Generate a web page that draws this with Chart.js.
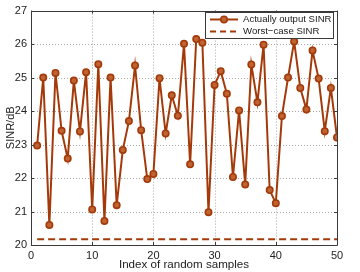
<!DOCTYPE html>
<html>
<head>
<meta charset="utf-8">
<script src="https://cdn.jsdelivr.net/npm/chart.js@4/dist/chart.umd.min.js"></script>
<style>
html,body{margin:0;padding:0;background:#fff;}
#wrap{width:360px;height:272px;position:relative;}
</style>
</head>
<body>
<div id="wrap"><canvas id="c" width="360" height="272"></canvas></div>
<script>
const sampleIndex = [1,2,3,4,5,6,7,8,9,10,11,12,13,14,15,16,17,18,19,20,21,22,23,24,25,26,27,28,29,30,31,32,33,34,35,36,37,38,39,40,41,42,43,44,45,46,47,48,49,50];
const actualSINR = [22.97,25.0,20.6,25.14,23.41,22.58,24.91,23.39,25.16,21.06,25.4,20.72,25.0,21.19,22.84,23.7,25.36,23.43,21.97,22.12,24.98,23.33,24.47,23.86,26.01,22.41,26.15,26.04,20.98,24.78,25.19,24.52,22.03,24.02,21.81,25.39,24.26,25.98,21.64,21.25,23.85,25.0,26.08,24.69,24.05,25.81,24.97,23.4,24.69,23.21];
const worstSINR = 20.17;
const xTicks = [0,10,20,30,40,50];
const yTicks = [20,21,22,23,24,25,26,27];
const seriesNames = ["Actually output SINR","Worst\u2212case SINR"];

const col = 'rgb(164,58,10)';
const font = "'Liberation Sans', Arial, sans-serif";

const gridPlugin = {
  id:'gridPlugin',
  beforeDatasetsDraw(chart){
    const {ctx, chartArea:a, scales:{x,y}} = chart;
    ctx.save();
    ctx.strokeStyle='#a8a8a8'; ctx.lineWidth=1; ctx.setLineDash([1,2]);
    ctx.beginPath();
    xTicks.slice(1,-1).forEach(v=>{
      const px=Math.round(x.getPixelForValue(v))+0.5;
      ctx.moveTo(px,a.top); ctx.lineTo(px,a.bottom);
    });
    yTicks.slice(1,-1).forEach(v=>{
      const py=Math.round(y.getPixelForValue(v))+0.5;
      ctx.moveTo(a.left,py); ctx.lineTo(a.right,py);
    });
    ctx.stroke();
    ctx.restore();
  }
};

const boxPlugin = {
  id:'boxPlugin',
  afterDraw(chart){
    const {ctx, chartArea:a, scales:{x,y}} = chart;
    ctx.save();
    ctx.strokeStyle = '#3a3a3a';
    ctx.lineWidth = 1;
    ctx.beginPath();
    ctx.rect(Math.round(a.left)+0.5, Math.round(a.top)+0.5, Math.round(a.right-a.left), Math.round(a.bottom-a.top));
    ctx.stroke();
    ctx.beginPath();
    xTicks.forEach(v=>{
      const px = Math.round(x.getPixelForValue(v))+0.5;
      ctx.moveTo(px,a.bottom); ctx.lineTo(px,a.bottom-3);
      ctx.moveTo(px,a.top); ctx.lineTo(px,a.top+3);
    });
    yTicks.forEach(v=>{
      const py = Math.round(y.getPixelForValue(v))+0.5;
      ctx.moveTo(a.left,py); ctx.lineTo(a.left+3,py);
      ctx.moveTo(a.right,py); ctx.lineTo(a.right-3,py);
    });
    ctx.stroke();
    // legend
    const lx=205.5, ly=12.5, lw=128, lh=26;
    ctx.fillStyle='#fff';
    ctx.fillRect(lx,ly,lw,lh);
    ctx.strokeStyle='#3a3a3a';
    ctx.strokeRect(lx,ly,lw,lh);
    const r1=19.5, r2=31.5;
    ctx.strokeStyle=col; ctx.lineWidth=2;
    ctx.beginPath(); ctx.moveTo(210,r1); ctx.lineTo(238,r1); ctx.stroke();
    ctx.beginPath(); ctx.arc(224,r1,3.2,0,Math.PI*2);
    ctx.fillStyle='rgb(190,100,50)'; ctx.fill(); ctx.lineWidth=1.6; ctx.stroke();
    ctx.lineWidth=2; ctx.setLineDash([6,4]);
    ctx.beginPath(); ctx.moveTo(210,r2); ctx.lineTo(238,r2); ctx.stroke();
    ctx.setLineDash([]);
    ctx.fillStyle='#1a1a1a';
    ctx.font = "9.6px "+font;
    ctx.textBaseline='middle';
    ctx.fillText(seriesNames[0],243,r1);
    ctx.fillText(seriesNames[1],243,r2);
    ctx.restore();
  }
};

new Chart(document.getElementById('c'),{
  type:'line',
  data:{
    datasets:[
      {label:seriesNames[0], data:sampleIndex.map((v,i)=>({x:v,y:actualSINR[i]})),
       borderColor:col, borderWidth:2, pointRadius:3.2, pointBorderWidth:1.6,
       pointBackgroundColor:'rgb(190,100,50)', pointBorderColor:col, tension:0},
      {label:seriesNames[1], data:sampleIndex.map(v=>({x:v,y:worstSINR})),
       borderColor:col, borderWidth:2, borderDash:[7,4], pointRadius:0}
    ]
  },
  options:{
    responsive:false, animation:false, devicePixelRatio:1,
    layout:{padding:{left:4,right:23,top:7,bottom:0}},
    plugins:{legend:{display:false}, tooltip:{enabled:false}},
    scales:{
      x:{type:'linear', min:0, max:50,
         afterBuildTicks(s){s.ticks=xTicks.map(v=>({value:v}));},
         afterFit(s){s.height=27;},
         grid:{display:false, drawTicks:false, tickLength:0},
         border:{display:false},
         ticks:{color:'#222', font:{family:font,size:11}, padding:4, maxRotation:0},
         title:{display:true, text:'Index of random samples', color:'#222', font:{family:font,size:11.6}, padding:{top:0,bottom:0}}
      },
      y:{min:20, max:27,
         afterBuildTicks(s){s.ticks=yTicks.map(v=>({value:v}));},
         afterFit(s){s.width=27;},
         grid:{display:false, drawTicks:false, tickLength:0},
         border:{display:false},
         ticks:{color:'#222', font:{family:font,size:11}, padding:4},
         title:{display:true, text:'SINR/dB', color:'#222', font:{family:font,size:11}, padding:{top:0,bottom:0}}
      }
    }
  },
  plugins:[gridPlugin, boxPlugin]
});
</script>
</body>
</html>
